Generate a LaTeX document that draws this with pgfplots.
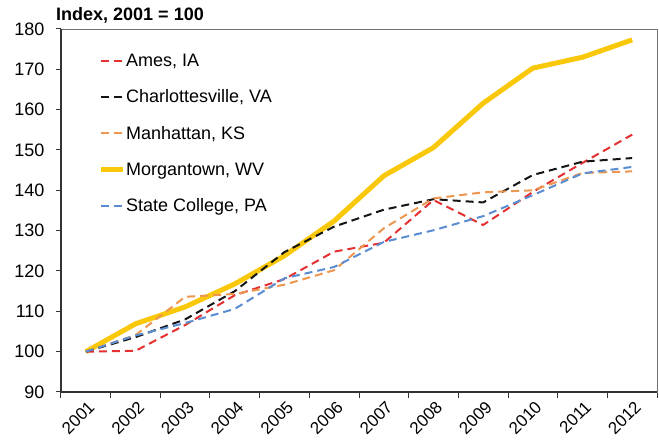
\documentclass[border=0pt]{standalone}
\usepackage{fontspec}
\setmainfont{Liberation Sans}
\usepackage{pgfplots}
\pgfplotsset{compat=1.18}
\definecolor{cRed}{RGB}{228,48,48}
\definecolor{cBlack}{RGB}{20,20,20}
\definecolor{cOrange}{RGB}{236,150,80}
\definecolor{cYellow}{RGB}{250,200,10}
\definecolor{cBlue}{RGB}{90,140,210}
\begin{document}
\begin{tikzpicture}
\begin{axis}[
  scale only axis, width=596pt, height=363pt,
  clip=false,
  xmin=-0.5, xmax=11.5, ymin=90, ymax=180,
  ytick={90,100,...,180},
  xtick={0,...,11},
  xticklabels={2001,2002,2003,2004,2005,2006,2007,2008,2009,2010,2011,2012},
  minor xtick={-0.5,0.5,...,11.5},
  major x tick style={draw=none},
  tick align=outside, tick pos=left,
  major tick length=5pt, minor tick length=6pt,
  every tick/.style={black!80, line width=1pt},
  x tick label style={rotate=45, anchor=north east, font=\fontsize{17}{19}\selectfont, inner sep=1pt, yshift=-2pt},
  y tick label style={font=\fontsize{18}{20}\selectfont, xshift=-8pt},
  /pgf/number format/assume math mode=true,
  axis line style={black!55, line width=0.6pt},
  legend style={at={(rel axis cs:0.062,0.935)}, anchor=north west, draw=none, fill=none,
    font=\fontsize{18}{20}\selectfont, row sep=20pt, inner sep=0pt,
    nodes={inner sep=1pt},
    /tikz/every odd column/.style={column sep=0pt}},
  legend cell align=left,
  legend image code/.code={\draw[#1] (0pt,0pt) -- (22pt,0pt);},
  dashed line/.style={line width=2pt, dash pattern=on 8pt off 5pt},
]
\addplot[cYellow, line width=5pt, forget plot] coordinates {(0,100) (1,106.9) (2,111.1) (3,116.8) (4,123.8) (5,132.4) (6,143.6) (7,150.6) (8,161.6) (9,170.3) (10,173) (11,177.3)};
\addplot[cRed, dashed line] coordinates {(0,100) (1,100.2) (2,106.6) (3,114) (4,118) (5,124.8) (6,127) (7,137.6) (8,131.4) (9,139.6) (10,146.8) (11,153.8)};
\addlegendentry{Ames, IA}
\addplot[cBlack, dashed line] coordinates {(0,100) (1,103.6) (2,108) (3,115) (4,124.7) (5,131) (6,135.2) (7,137.8) (8,137) (9,143.8) (10,147.1) (11,148)};
\addlegendentry{Charlottesville, VA}
\addplot[cOrange, dashed line] coordinates {(0,100) (1,104.1) (2,113.6) (3,114.3) (4,116.6) (5,120.2) (6,130.6) (7,138) (8,139.5) (9,140) (10,144.3) (11,144.7)};
\addlegendentry{Manhattan, KS}
\addlegendimage{cYellow, line width=5pt}
\addlegendentry{Morgantown, WV}
\addplot[cBlue, dashed line] coordinates {(0,100) (1,104) (2,107.1) (3,110.6) (4,118.2) (5,121) (6,127.2) (7,130.1) (8,133.6) (9,138.8) (10,144.2) (11,145.8)};
\addlegendentry{State College, PA}
\draw[black!80, line width=1.6pt] (rel axis cs:0,1) -- (rel axis cs:0,0) -- (rel axis cs:1,0);
\node[anchor=base west, font=\bfseries\fontsize{18}{20}\selectfont, inner sep=0pt] at ([xshift=-5pt,yshift=8pt]rel axis cs:0,1) {Index, 2001 = 100};
\path ([xshift=-61pt,yshift=-52pt]rel axis cs:0,0) -- ([xshift=2pt,yshift=29pt]rel axis cs:1,1);
\end{axis}
\end{tikzpicture}
\end{document}
